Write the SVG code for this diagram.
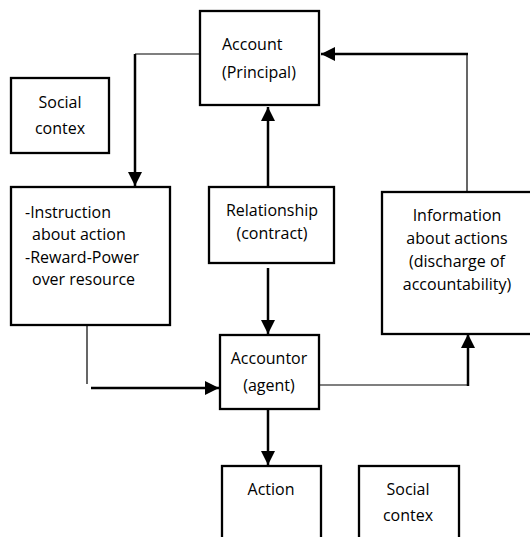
<svg xmlns="http://www.w3.org/2000/svg" width="530" height="537" viewBox="0 0 530 537">
<defs>
<style>
.box{fill:#fff;stroke:#000;stroke-width:2.3}
.t{font-family:"Open Sans","Liberation Sans",sans-serif;font-size:16px;fill:#000}
.c{text-anchor:middle}
.thick{fill:none;stroke:#000;stroke-width:2.5}
.thin{fill:none;stroke:#000;stroke-width:1.2}
</style>
<marker id="ah" markerWidth="14" markerHeight="14" viewBox="0 0 14 14" refX="14" refY="7" orient="auto" markerUnits="userSpaceOnUse">
<path d="M0,0 L14,7 L0,14 Z" fill="#000"/>
</marker>
</defs>
<rect width="530" height="537" fill="#fff"/>
<g id="connectors">
<path class="thin" d="M199,54 H135"/>
<path class="thick" d="M135,54 V186" marker-end="url(#ah)"/>
<path class="thin" d="M467,191 V54"/>
<path class="thick" d="M468,54 H321" marker-end="url(#ah)"/>
<path class="thick" d="M268,186 V107" marker-end="url(#ah)"/>
<path class="thick" d="M268,268 V334" marker-end="url(#ah)"/>
<path class="thin" d="M87,325 V384"/>
<path class="thick" d="M91,388 H219" marker-end="url(#ah)"/>
<path class="thin" d="M319,385 H469"/>
<path class="thick" d="M468,386 V334" marker-end="url(#ah)"/>
<path class="thick" d="M268,409 V465" marker-end="url(#ah)"/>
</g>
<g id="account">
<rect class="box" x="200" y="11" width="119" height="94"/>
<text class="t" x="222" y="50">Account</text>
<text class="t" x="222" y="78">(Principal)</text>
</g>
<g id="social1">
<rect class="box" x="11" y="78" width="98" height="75"/>
<text class="t c" x="60" y="108">Social</text>
<text class="t c" x="60" y="134">contex</text>
</g>
<g id="instruction">
<rect class="box" x="11" y="187" width="159" height="138"/>
<text class="t" x="25" y="218">-Instruction</text>
<text class="t" x="32" y="240">about action</text>
<text class="t" x="25" y="263">-Reward-Power</text>
<text class="t" x="32" y="285">over resource</text>
</g>
<g id="relationship">
<rect class="box" x="209" y="187" width="125" height="76"/>
<text class="t c" x="272" y="216">Relationship</text>
<text class="t c" x="272" y="239">(contract)</text>
</g>
<g id="information">
<rect class="box" x="382" y="192" width="152" height="142"/>
<text class="t c" x="457" y="221">Information</text>
<text class="t c" x="457" y="244">about actions</text>
<text class="t c" x="457" y="267">(discharge of</text>
<text class="t c" x="457" y="290">accountability)</text>
</g>
<g id="accountor">
<rect class="box" x="220" y="335" width="99" height="74"/>
<text class="t c" x="269" y="364">Accountor</text>
<text class="t c" x="269" y="391">(agent)</text>
</g>
<g id="action">
<rect class="box" x="222" y="466" width="99" height="80"/>
<text class="t c" x="271" y="495">Action</text>
</g>
<g id="social2">
<rect class="box" x="359" y="466" width="100" height="80"/>
<text class="t c" x="408" y="495">Social</text>
<text class="t c" x="408" y="521">contex</text>
</g>
</svg>
